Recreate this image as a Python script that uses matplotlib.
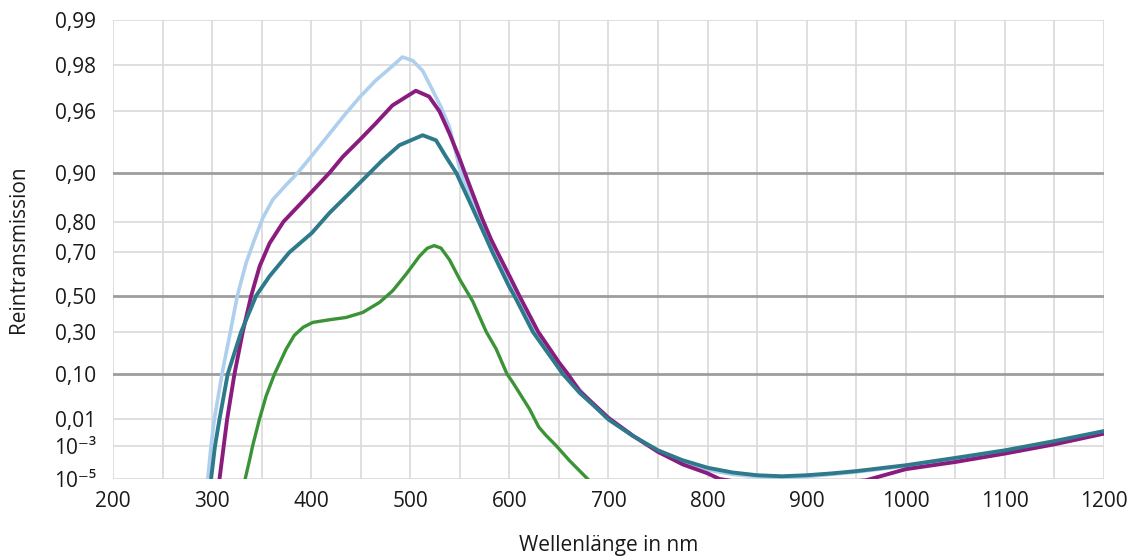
import numpy as np
import matplotlib
matplotlib.use("Agg")
import matplotlib.pyplot as plt

plt.rcParams['font.family'] = ['Open Sans', 'DejaVu Sans']

# reading of the four transmission curves (wavelength nm, pure transmission)
hellblau_nm = [293, 295.7, 299, 302.3, 310, 318.5, 325.5, 334.4, 342.8, 351.2, 361.3, 374.8, 386.5, 405,
               435, 449, 465, 482, 492, 502.5, 512.5, 522.7, 531, 539.5, 551, 562, 575, 586, 608, 627,
               657, 685, 700, 725, 750, 775, 800, 825, 850, 875, 900, 950, 1000, 1050, 1100, 1150, 1200]
hellblau_t = [1e-6, 1e-5, 1e-3, 0.01, 0.10, 0.30, 0.50, 0.658, 0.746, 0.81, 0.853, 0.881, 0.90, 0.928,
              0.9585, 0.9675, 0.9747, 0.9797, 0.9823, 0.9813, 0.9782, 0.9706, 0.9623, 0.9492, 0.90, 0.855, 0.77, 0.70, 0.50, 0.30,
              0.10, 0.025, 0.0105, 2.6e-3, 5.5e-4, 1.5e-4, 4.5e-5, 2.2e-5, 1.5e-5, 1.3e-5, 1.5e-5, 3.2e-5, 8e-5, 2.1e-4, 5.5e-4, 1.45e-3, 3.7e-3]

lila_nm = [305, 307.5, 311.8, 315.2, 322.6, 331, 339.5, 348, 358, 372, 395, 418.5, 432, 448.6, 465,
           482, 505.6, 519, 529.5, 539.6, 549.7, 555, 563, 573, 581.6, 588, 600, 610, 629, 650, 659,
           671, 685, 700, 725, 750, 775, 800, 812, 830, 870, 920, 960, 1000, 1050, 1100, 1150, 1200]
lila_t = [1e-6, 1e-5, 1e-3, 0.01, 0.10, 0.30, 0.50, 0.643, 0.733, 0.80, 0.857, 0.90, 0.921, 0.938, 0.9517,
          0.9632, 0.9705, 0.9678, 0.9597, 0.9439, 0.9189, 0.90, 0.865, 0.8055, 0.746, 0.70, 0.60, 0.50, 0.30, 0.1457, 0.10,
          0.05, 0.026, 0.011, 2.6e-3, 5e-4, 1e-4, 2.6e-5, 1e-5, 6e-6, 4e-6, 4e-6, 8e-6, 5e-5, 1.4e-4, 4.1e-4, 1.15e-3, 3.2e-3]

petrol_nm = [297, 299, 303, 307.5, 315.8, 329.4, 344.5, 358, 378, 400.6, 418.5, 438.7, 472, 489, 512.5,
             526, 536, 546.4, 560, 575, 583, 600, 605, 623.6, 654, 671, 685, 700, 724, 750, 774.5, 800,
             825, 850, 875, 900, 926, 950, 1000, 1050, 1100, 1150, 1200]
petrol_t = [1e-6, 1e-5, 1e-3, 0.01, 0.10, 0.30, 0.50, 0.598, 0.70, 0.767, 0.823, 0.866, 0.9169, 0.9333, 0.9425,
            0.938, 0.921, 0.90, 0.848, 0.762, 0.70, 0.545, 0.50, 0.30, 0.10, 0.046, 0.024, 0.0098, 2.7e-3, 6e-4, 1.8e-4, 6.2e-5,
            3e-5, 1.9e-5, 1.6e-5, 1.9e-5, 2.6e-5, 3.7e-5, 8.9e-5, 2.4e-4, 6e-4, 1.6e-3, 4e-3]

gruen_nm = [328, 333.4, 338, 341, 347.8, 354.6, 363, 374.8, 383, 392, 401.6, 418.5, 435.3, 452, 469,
            482.3, 495.9, 509.3, 517, 524, 531, 539.5, 550, 563, 576.6, 586.7, 597.6, 603.4, 620.3,
            629.6, 637.1, 647.2, 660.6, 679, 690]
gruen_t = [1e-6, 1e-5, 2e-4, 1e-3, 0.01, 0.04, 0.10, 0.208, 0.28, 0.325, 0.352, 0.367, 0.380, 0.408, 0.464,
           0.526, 0.608, 0.685, 0.715, 0.725, 0.716, 0.671, 0.582, 0.47, 0.30, 0.208, 0.10, 0.073, 0.0195,
           5.6e-3, 2.7e-3, 1e-3, 1.7e-4, 1e-5, 1e-6]

y_ticks = [1e-5, 1e-3, 0.01, 0.10, 0.30, 0.50, 0.70, 0.80, 0.90, 0.96, 0.98, 0.99]
y_labels = ['10⁻⁵', '10⁻³', '0,01', '0,10', '0,30', '0,50', '0,70', '0,80', '0,90', '0,96', '0,98', '0,99']
y_strong = [0.10, 0.50, 0.90]
x_ticks = list(range(200, 1201, 100))


# diabatic scale: log(log(1/T))
def fwd(t):
    t = np.clip(np.asarray(t, dtype=float), 1e-300, 1 - 1e-12)
    return -np.log10(-np.log10(t))


def inv(y):
    return 10 ** (-10 ** (-np.asarray(y, dtype=float)))


fig = plt.figure(figsize=(11.33, 5.58), dpi=100)
ax = fig.add_axes([0.0997, 0.1416, 0.8747, 0.8234])
ax.set_yscale('function', functions=(fwd, inv))
ax.set_xlim(200, 1200)
ax.set_ylim(1e-5, 0.99)

for x in range(200, 1201, 50):
    ax.axvline(x, color='#d9d9d9', lw=1.2, zorder=0)
for t in y_ticks:
    if t in y_strong:
        ax.axhline(t, color='#9d9d9d', lw=2.0, zorder=0.5)
    else:
        ax.axhline(t, color='#d9d9d9', lw=1.2, zorder=0)

ax.plot(hellblau_nm, hellblau_t, color='#aecfee', lw=2.6, zorder=2)
ax.plot(lila_nm, lila_t, color='#8b1c7f', lw=2.8, zorder=3)
ax.plot(petrol_nm, petrol_t, color='#2e7a8b', lw=2.8, zorder=4)
ax.plot(gruen_nm, gruen_t, color='#3a9436', lw=2.4, zorder=5)

ax.set_yticks(y_ticks)
ax.set_yticklabels(y_labels)
ax.yaxis.set_minor_locator(matplotlib.ticker.NullLocator())
ax.set_xticks(x_ticks)
ax.tick_params(axis='both', length=0, labelsize=15, colors='#1a1a1a')
ax.tick_params(axis='y', pad=12)
ax.tick_params(axis='x', pad=9)
for s in ax.spines.values():
    s.set_visible(False)

ax.set_xlabel('Wellenlänge in nm', fontsize=15, color='#1a1a1a', labelpad=16)
ax.set_ylabel('Reintransmission', fontsize=15, color='#1a1a1a', labelpad=18)

fig.savefig('out.png', dpi=100)
